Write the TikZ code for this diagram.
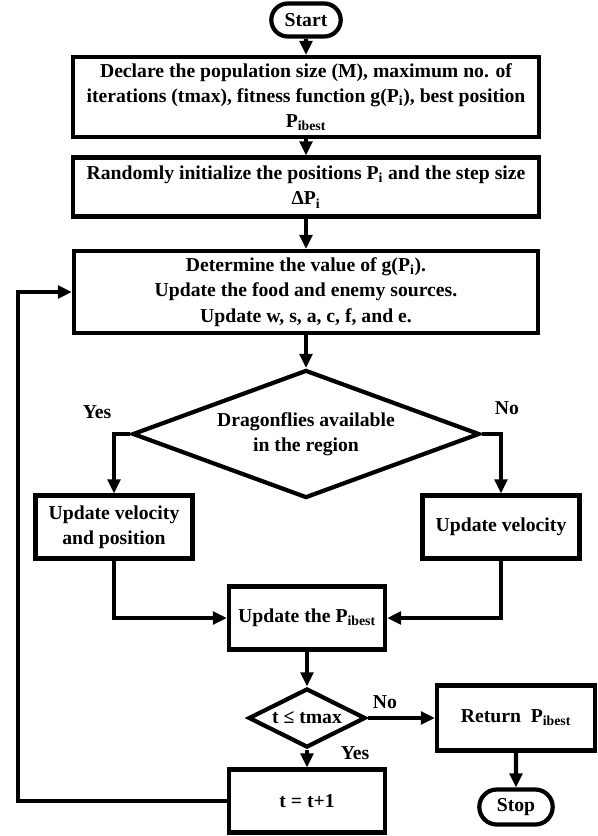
\documentclass[tikz,border=0pt]{standalone}
\usepackage{fontspec}
\setmainfont{Liberation Serif}
\usetikzlibrary{arrows.meta,shapes.geometric,shapes.misc}

\begin{document}
\begin{tikzpicture}[x=0.025cm, y=-0.025cm,
			every node/.style={font=\bfseries\fontsize{14}{18}\selectfont, align=center, line width=3pt, inner sep=2pt},
			box/.style={draw, rectangle},
			terminal/.style={draw, rounded rectangle, minimum width=1.875cm, minimum height=0.825cm},
			decision/.style={draw, diamond, inner sep=0pt},
			label/.style={font=\bfseries\fontsize{14}{15}\selectfont},
			arr/.style={line width=3pt, -{Triangle[length=10pt,width=9pt]}}]

		\useasboundingbox (0, 0) rectangle (598, 836);

		\node[terminal] (start) at (306, 20) {Start};
		\node[box, minimum width=11.65cm, minimum height=2cm] (decl) at (306, 97) {Declare the population size (M), maximum no. of\\iterations (tmax), fitness function g(P\textsubscript{i}), best position\\P\textsubscript{ibest}};
		\node[box, minimum width=11.65cm, minimum height=1.475cm] (init) at (306, 187) {Randomly initialize the positions P\textsubscript{i} and the step size\\ΔP\textsubscript{i}};
		\node[box, minimum width=11.6cm, minimum height=2.05cm] (eval) at (306, 292) {Determine the value of g(P\textsubscript{i}).\\Update the food and enemy sources.\\Update w, s, a, c, f, and e.};
		\node[decision, aspect=2.7, minimum width=8.675cm, minimum height=3.2cm] (region) at (306, 434) {Dragonflies available\\in the region};
		\node[box, minimum width=3.925cm, minimum height=1.575cm] (velpos) at (114, 527) {Update velocity\\and position};
		\node[box, minimum width=3.925cm, minimum height=1.575cm] (vel) at (501, 527) {Update velocity};
		\node[box, minimum width=3.9cm, minimum height=1.575cm] (best) at (307, 618) {Update the P\textsubscript{ibest}};
		\node[decision, aspect=2, minimum width=2.925cm, minimum height=1.475cm] (check) at (307, 718) {t ≤ tmax};
		\node[box, minimum width=3.95cm, minimum height=1.625cm] (ret) at (516, 718) {Return~ P\textsubscript{ibest}};
		\node[terminal, minimum width=1.975cm, minimum height=0.875cm] (stop) at (516, 807) {Stop};
		\node[box, minimum width=3.9cm, minimum height=1.575cm] (incr) at (307, 801) {t = t+1};
		\coordinate (loop) at (18, 801);

		\node[label] (yes1) at (97, 412) {Yes};
		\node[label] (no1) at (507, 408) {No};
		\node[label] (no2) at (385, 702) {No};
		\node[label] (yes2) at (355, 753) {Yes};

		\draw[arr] (start) -- (decl);
		\draw[arr] (decl) -- (init);
		\draw[arr] (init) -- (eval);
		\draw[arr] (eval) -- (region);
		\draw[arr] (region.west) -| (velpos.north);
		\draw[arr] (region.east) -| (vel.north);
		\draw[arr] (velpos.south) |- (best.west);
		\draw[arr] (vel.south) |- (best.east);
		\draw[arr] (best) -- (check);
		\draw[arr] (check) -- (incr);
		\draw[arr] (check.east) -- (ret.west);
		\draw[arr] (ret) -- (stop);
		\draw[arr] (incr.west) -- (loop) |- (eval.west);
	\end{tikzpicture}
\end{document}
